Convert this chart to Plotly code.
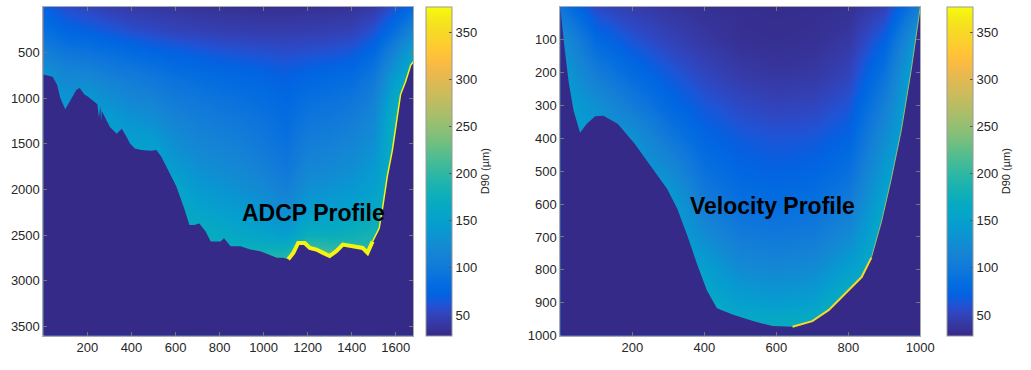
import numpy as np
import plotly.graph_objects as go

# ---------------- data ----------------
# MATLAB parula colormap (64 entries)
parula_rgb = [
    [0.2081,0.1663,0.5292],[0.2116,0.1898,0.5777],[0.2123,0.2138,0.6270],[0.2081,0.2386,0.6771],
    [0.1959,0.2645,0.7279],[0.1707,0.2919,0.7792],[0.1253,0.3242,0.8303],[0.0591,0.3598,0.8683],
    [0.0117,0.3875,0.8820],[0.0060,0.4086,0.8828],[0.0165,0.4266,0.8786],[0.0329,0.4430,0.8720],
    [0.0498,0.4586,0.8641],[0.0629,0.4737,0.8554],[0.0723,0.4887,0.8467],[0.0779,0.5040,0.8384],
    [0.0793,0.5200,0.8312],[0.0749,0.5375,0.8263],[0.0641,0.5570,0.8240],[0.0488,0.5772,0.8228],
    [0.0343,0.5966,0.8199],[0.0265,0.6137,0.8135],[0.0239,0.6287,0.8038],[0.0231,0.6418,0.7913],
    [0.0228,0.6535,0.7768],[0.0267,0.6642,0.7607],[0.0384,0.6743,0.7436],[0.0590,0.6838,0.7254],
    [0.0843,0.6928,0.7062],[0.1133,0.7015,0.6859],[0.1453,0.7098,0.6646],[0.1801,0.7177,0.6424],
    [0.2178,0.7250,0.6193],[0.2586,0.7317,0.5954],[0.3022,0.7376,0.5712],[0.3482,0.7424,0.5473],
    [0.3953,0.7459,0.5244],[0.4420,0.7481,0.5033],[0.4871,0.7491,0.4840],[0.5300,0.7491,0.4661],
    [0.5709,0.7485,0.4494],[0.6099,0.7473,0.4337],[0.6473,0.7456,0.4188],[0.6834,0.7435,0.4044],
    [0.7184,0.7411,0.3905],[0.7525,0.7384,0.3768],[0.7858,0.7356,0.3633],[0.8185,0.7327,0.3498],
    [0.8507,0.7299,0.3360],[0.8824,0.7274,0.3217],[0.9139,0.7258,0.3063],[0.9450,0.7261,0.2886],
    [0.9739,0.7314,0.2666],[0.9938,0.7455,0.2403],[0.9990,0.7653,0.2164],[0.9955,0.7861,0.1967],
    [0.9880,0.8066,0.1794],[0.9789,0.8271,0.1633],[0.9697,0.8481,0.1475],[0.9626,0.8705,0.1309],
    [0.9589,0.8949,0.1132],[0.9598,0.9218,0.0948],[0.9661,0.9514,0.0755],[0.9763,0.9831,0.0538],
]
cmin, cmax = 28, 377
cbar_ticks = [50, 100, 150, 200, 250, 300, 350]

# ---- ADCP profile (left) ----
adcp_x = [0, 100, 200, 300, 400, 500, 600, 700, 800, 900, 1000, 1100, 1200, 1300, 1400, 1500, 1600, 1700]
adcp_depth = [0, 250, 500, 750, 1000, 1250, 1500, 1750, 2000, 2250, 2500, 2750, 3000, 3250, 3500]
adcp_d90_by_station = [
    [72, 88, 110, 135, 140, 140, 140, 140, 140, 140, 140, 140, 140, 140, 140],
    [58, 75, 98, 118, 135, 145, 145, 145, 145, 145, 145, 145, 145, 145, 145],
    [52, 70, 94, 118, 140, 140, 140, 140, 140, 140, 140, 140, 140, 140, 140],
    [46, 64, 88, 108, 128, 145, 150, 150, 150, 150, 150, 150, 150, 150, 150],
    [42, 58, 82, 102, 118, 135, 150, 150, 150, 150, 150, 150, 150, 150, 150],
    [40, 54, 76, 96, 112, 128, 148, 155, 155, 155, 155, 155, 155, 155, 155],
    [38, 50, 72, 88, 102, 115, 128, 142, 160, 165, 165, 165, 165, 165, 165],
    [36, 48, 68, 84, 97, 108, 118, 130, 143, 157, 172, 175, 175, 175, 175],
    [35, 46, 64, 80, 92, 103, 113, 124, 136, 150, 166, 180, 180, 180, 180],
    [34, 45, 62, 77, 88, 98, 108, 118, 130, 144, 160, 185, 185, 185, 185],
    [34, 44, 60, 74, 84, 92, 100, 110, 122, 137, 155, 190, 190, 190, 190],
    [34, 44, 58, 70, 78, 84, 90, 98, 110, 126, 148, 195, 195, 195, 195],
    [34, 45, 60, 75, 87, 97, 107, 117, 131, 147, 175, 230, 230, 230, 230],
    [35, 46, 62, 78, 90, 100, 110, 120, 134, 150, 172, 220, 220, 220, 220],
    [36, 49, 66, 82, 95, 106, 117, 128, 140, 155, 178, 210, 210, 210, 210],
    [42, 60, 80, 98, 110, 120, 130, 140, 150, 165, 185, 195, 195, 195, 195],
    [62, 88, 118, 145, 165, 180, 180, 180, 180, 180, 180, 180, 180, 180, 180],
    [85, 125, 165, 175, 175, 175, 175, 175, 175, 175, 175, 175, 175, 175, 175],
]
adcp_bed_x = [0, 42, 62, 77, 99, 121, 150, 165, 186, 200, 230, 245, 252, 259, 262, 265, 280, 303,
              333, 356, 378, 393, 415, 445, 490, 513, 535, 565, 603, 640, 663, 685, 708, 737, 760,
              805, 820, 850, 895, 940, 985, 1060, 1090, 1112, 1135, 1157, 1187, 1210, 1240, 1270,
              1300, 1330, 1360, 1405, 1450, 1472, 1495, 1525, 1540, 1562, 1585, 1607, 1622, 1645,
              1668, 1680]
adcp_bed_depth = [740, 765, 854, 997, 1122, 1032, 908, 890, 961, 979, 1032, 1068, 1211, 1086, 1264,
                  1140, 1211, 1318, 1390, 1336, 1425, 1497, 1550, 1568, 1575, 1568, 1640, 1782, 1961,
                  2211, 2390, 2390, 2372, 2461, 2569, 2569, 2533, 2622, 2622, 2658, 2676, 2747, 2747,
                  2765, 2694, 2586, 2586, 2640, 2658, 2694, 2729, 2676, 2604, 2622, 2640, 2694, 2569,
                  2425, 2211, 1854, 1568, 1211, 961, 818, 640, 600]

# ---- Velocity profile (right) ----
vel_x = [0, 100, 200, 300, 400, 500, 600, 700, 800, 900, 1000]
vel_depth = [0, 100, 200, 300, 400, 500, 600, 700, 800, 900, 1000]
vel_d90_by_station = [
    [95, 130, 145, 150, 150, 150, 150, 150, 150, 150, 150],
    [55, 80, 105, 130, 145, 145, 145, 145, 145, 145, 145],
    [45, 62, 82, 104, 132, 145, 145, 145, 145, 145, 145],
    [38, 50, 65, 80, 100, 125, 150, 155, 155, 155, 155],
    [34, 40, 52, 64, 76, 90, 106, 126, 150, 165, 165],
    [32, 34, 42, 55, 66, 76, 88, 104, 125, 150, 175],
    [31, 33, 38, 50, 62, 72, 85, 100, 120, 145, 180],
    [32, 34, 40, 52, 64, 75, 88, 104, 124, 150, 185],
    [34, 40, 50, 62, 74, 88, 104, 124, 150, 178, 185],
    [48, 72, 92, 110, 126, 142, 160, 172, 175, 175, 175],
    [110, 150, 170, 175, 175, 175, 175, 175, 175, 175, 175],
]
vel_bed_x = [0, 9, 23, 37, 55, 73, 97, 120, 160, 206, 252, 297, 325, 352, 380, 407, 435, 480, 535,
             590, 645, 700, 746, 791, 837, 864, 892, 919, 947, 974, 1000]
vel_bed_depth = [0, 98, 227, 316, 383, 356, 333, 331, 356, 416, 485, 554, 614, 693, 783, 862, 917,
                 937, 956, 971, 973, 956, 922, 872, 822, 763, 654, 525, 376, 197, 0]

# ---------------- figure ----------------
W, H = 1031, 370
n = len(parula_rgb)
colorscale = [[i / (n - 1), 'rgb(%d,%d,%d)' % tuple(round(c * 255) for c in rgb)]
              for i, rgb in enumerate(parula_rgb)]
bed_color = colorscale[0][1]
yellow = colorscale[-2][1]
FONT = "Arial, Liberation Sans, sans-serif"
TXT = "#262626"

fig = go.Figure()

def cbar(xpos):
    return dict(x=xpos, xanchor='left', xpad=0, y=(H - 175) / H, yanchor='middle', ypad=0,
                len=336 / H, lenmode='fraction', thickness=26, thicknessmode='pixels',
                tickvals=cbar_ticks, ticks='inside', ticklen=3, tickcolor='#555',
                outlinewidth=1, outlinecolor='#999',
                tickfont=dict(size=13, color=TXT, family=FONT),
                title=dict(text='D90 (µm)', side='right', font=dict(size=11, color=TXT, family=FONT)))

# Left heatmap
fig.add_trace(go.Heatmap(x=adcp_x, y=adcp_depth, z=np.array(adcp_d90_by_station).T,
                         colorscale=colorscale, zmin=cmin, zmax=cmax, zsmooth='best',
                         colorbar=cbar(432 / W), xaxis='x', yaxis='y', hoverinfo='skip'))
fig.add_trace(go.Scatter(x=[0] + adcp_bed_x + [1680, 0], y=[3650] + adcp_bed_depth + [3650, 3650],
                         fill='toself', fillcolor=bed_color, line=dict(width=0), mode='lines',
                         xaxis='x', yaxis='y', showlegend=False, hoverinfo='skip'))
i0, i1 = adcp_bed_x.index(1112), adcp_bed_x.index(1495)
fig.add_trace(go.Scatter(x=adcp_bed_x[i0:i1 + 1], y=adcp_bed_depth[i0:i1 + 1], mode='lines',
                         line=dict(color=yellow, width=4), xaxis='x', yaxis='y',
                         showlegend=False, hoverinfo='skip'))
fig.add_trace(go.Scatter(x=adcp_bed_x[i1:], y=adcp_bed_depth[i1:], mode='lines',
                         line=dict(color=yellow, width=1.5), xaxis='x', yaxis='y',
                         showlegend=False, hoverinfo='skip'))

# Right heatmap
fig.add_trace(go.Heatmap(x=vel_x, y=vel_depth, z=np.array(vel_d90_by_station).T,
                         colorscale=colorscale, zmin=cmin, zmax=cmax, zsmooth='best',
                         colorbar=cbar(960 / W), xaxis='x2', yaxis='y2', hoverinfo='skip'))
fig.add_trace(go.Scatter(x=[0] + vel_bed_x + [1000, 0], y=[1010] + vel_bed_depth + [1010, 1010],
                         fill='toself', fillcolor=bed_color, line=dict(width=0), mode='lines',
                         xaxis='x2', yaxis='y2', showlegend=False, hoverinfo='skip'))
j0, j1 = vel_bed_x.index(645), vel_bed_x.index(864)
fig.add_trace(go.Scatter(x=vel_bed_x[j0:j1 + 1], y=vel_bed_depth[j0:j1 + 1], mode='lines',
                         line=dict(color=colorscale[-6][1], width=2), xaxis='x2', yaxis='y2',
                         showlegend=False, hoverinfo='skip'))
fig.add_trace(go.Scatter(x=vel_bed_x[j1:], y=vel_bed_depth[j1:], mode='lines',
                         line=dict(color=colorscale[40][1], width=1), xaxis='x2', yaxis='y2',
                         showlegend=False, hoverinfo='skip'))

ax = dict(ticks='inside', ticklen=4, tickcolor='#777', showline=True, linecolor='#aaa',
          linewidth=1, mirror='ticks', showgrid=False, zeroline=False,
          tickfont=dict(size=13, color=TXT, family=FONT))

fig.update_layout(
    width=W, height=H, margin=dict(l=0, r=0, t=0, b=0),
    paper_bgcolor='white', plot_bgcolor=bed_color, showlegend=False,
    xaxis=dict(domain=[44 / W, 419 / W], range=[0, 1680], tickvals=list(range(200, 1601, 200)), **ax),
    yaxis=dict(domain=[27 / H, 363 / H], range=[3600, 0], tickvals=list(range(500, 3501, 500)), **ax),
    xaxis2=dict(domain=[568 / W, 933 / W], range=[0, 1000], tickvals=list(range(200, 1001, 200)),
                anchor='y2', **ax),
    yaxis2=dict(domain=[27 / H, 363 / H], range=[1000, 0], tickvals=list(range(100, 1001, 100)),
                anchor='x2', **ax),
    annotations=[
        dict(x=1225, y=2260, xref='x', yref='y', text='<b>ADCP Profile</b>', showarrow=False,
             font=dict(size=23, color='black', family=FONT)),
        dict(x=590, y=605, xref='x2', yref='y2', text='<b>Velocity Profile</b>', showarrow=False,
             font=dict(size=23, color='black', family=FONT)),
    ],
)

fig.write_html(
    "out.html", config={'displayModeBar': False},
    post_script=("document.documentElement.style.margin='0';document.body.style.margin='0';"
                 "document.documentElement.style.overflow='hidden';"
                 "Plotly.relayout('{plot_id}', {width: document.documentElement.clientWidth, "
                 "height: document.documentElement.clientHeight});"))
